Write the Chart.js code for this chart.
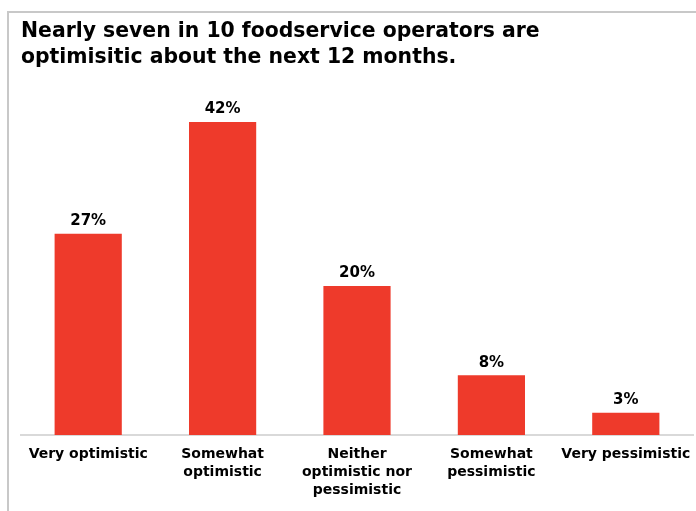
<!DOCTYPE html>
<html>
<head>
<meta charset="utf-8">
<script src="https://cdn.jsdelivr.net/npm/chart.js@4"></script>
<style>
    html, body { margin: 0; padding: 0; background: #fff; overflow: hidden; }
    #wrap { position: relative; width: 696px; height: 511px; }
    #frame {
        position: absolute; left: 7px; top: 11px; width: 800px; height: 600px;
        border-left: 2px solid #c8c8c8; border-top: 2px solid #c8c8c8;
    }
    #outlookChart { position: absolute; left: 0; top: 0; }
</style>
</head>
<body>
<div id="wrap">
    <div id="frame"></div>
    <canvas id="outlookChart" width="696" height="511"></canvas>
</div>
<script>
// Operator outlook for the next 12 months
const titleLines = [
    'Nearly seven in 10 foodservice operators are',
    'optimisitic about the next 12 months.'
];
const categories = [
    ['Very optimistic'],
    ['Somewhat', 'optimistic'],
    ['Neither', 'optimistic nor', 'pessimistic'],
    ['Somewhat', 'pessimistic'],
    ['Very pessimistic']
];
const shares = [27, 42, 20, 8, 3];

const FONT = '"DejaVu Sans", Verdana, sans-serif';

// prints the percentage above each bar
const barValueLabels = {
    id: 'barValueLabels',
    afterDatasetsDraw(chart) {
        const ctx = chart.ctx;
        const meta = chart.getDatasetMeta(0);
        ctx.save();
        ctx.font = 'bold 15px ' + FONT;
        ctx.fillStyle = '#000';
        ctx.textAlign = 'center';
        ctx.textBaseline = 'bottom';
        meta.data.forEach((bar, i) => {
            ctx.fillText(shares[i] + '%', bar.x, bar.y - 5);
        });
        ctx.restore();
    }
};

const ctx = document.getElementById('outlookChart').getContext('2d');
new Chart(ctx, {
    type: 'bar',
    data: {
        labels: categories,
        datasets: [{
            data: shares,
            backgroundColor: '#ee3a2b',
            borderWidth: 0,
            barPercentage: 1,
            categoryPercentage: 0.5
        }]
    },
    options: {
        responsive: false,
        animation: false,
        layout: { padding: { left: 21, right: 3, top: 0, bottom: 0 } },
        scales: {
            x: {
                grid: { display: false, drawTicks: false },
                border: { display: true, color: '#d9d9d9', width: 2 },
                ticks: {
                    color: '#000',
                    padding: 10,
                    maxRotation: 0,
                    autoSkip: false,
                    font: { family: FONT, size: 14, weight: 'bold', lineHeight: 1.3 }
                },
                afterFit(scale) {
                    // labels may run past the edges; keep the axis full width
                    scale.height = 76;
                    scale.paddingLeft = 0;
                    scale.paddingRight = 0;
                }
            },
            y: {
                display: false,
                min: 0,
                max: 47.6
            }
        },
        plugins: {
            legend: { display: false },
            tooltip: { enabled: false },
            title: {
                display: true,
                text: titleLines,
                align: 'start',
                color: '#000',
                font: { family: FONT, size: 20.4, weight: 'bold', lineHeight: 1.28 },
                padding: { top: 19, bottom: 9 }
            }
        }
    },
    plugins: [barValueLabels]
});
</script>
</body>
</html>
